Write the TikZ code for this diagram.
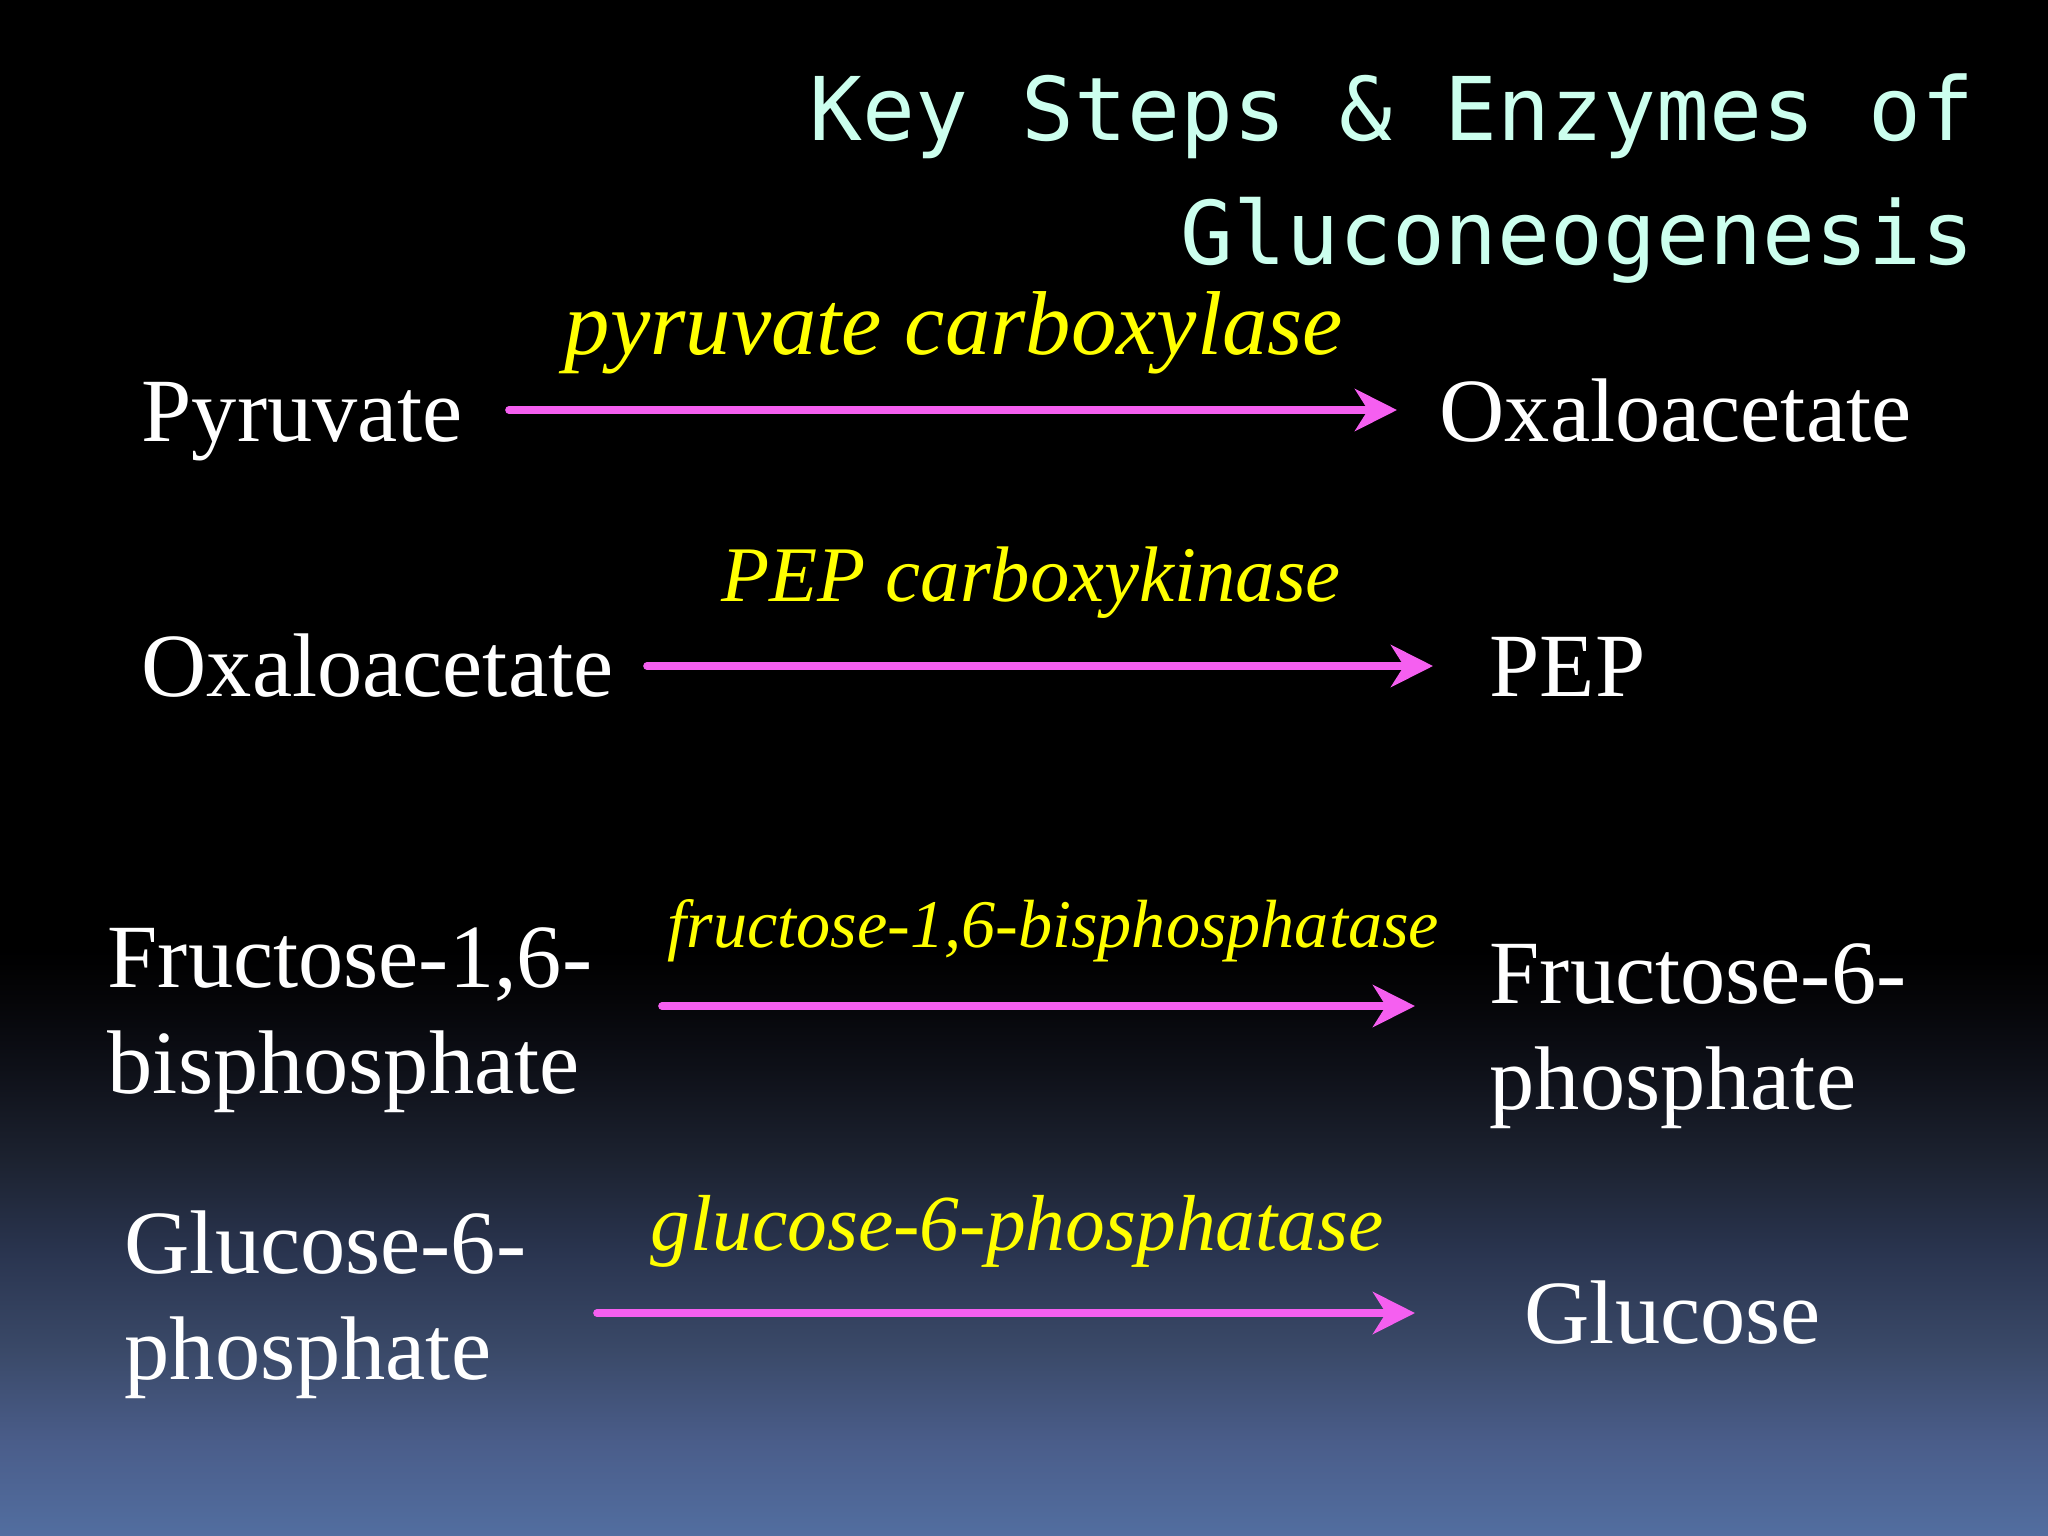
\documentclass[tikz,border=0pt]{standalone}
\usepackage{fontspec}
\setmainfont{Liberation Serif}
\newfontfamily\titlefont{DejaVu Sans Mono}
\usetikzlibrary{arrows.meta}
\definecolor{titlecyan}{RGB}{204,255,238}
\definecolor{enzyellow}{RGB}{255,255,0}
\definecolor{rxnpink}{RGB}{245,95,240}
\definecolor{bgA}{RGB}{82,110,160}
\definecolor{bgB}{RGB}{74,93,138}
\definecolor{bgC}{RGB}{58,73,104}
\definecolor{bgD}{RGB}{42,53,80}
\definecolor{bgE}{RGB}{28,34,48}
\definecolor{bgF}{RGB}{14,16,24}
\definecolor{bgG}{RGB}{5,5,8}
\pgfdeclareverticalshading{slidebg}{100bp}{color(0bp)=(bgA); color(25bp)=(bgA); color(28.06bp)=(bgB); color(31.05bp)=(bgC); color(34.15bp)=(bgD); color(37.24bp)=(bgE); color(40.23bp)=(bgF); color(42.45bp)=(bgG); color(44.1bp)=(black); color(100bp)=(black)}
\tikzset{
  compound/.style={inner sep=0pt, text=white, anchor=base west,
    font=\fontsize{25.7}{30.4}\selectfont},
  enzyme/.style={inner sep=0pt, text=enzyellow, anchor=base west},
  rxn/.style={draw=rxnpink, line width=0.077cm, line cap=round,
    -{Stealth[length=0.42cm,width=0.42cm,inset=0.13cm]}},
  titletext/.style={inner sep=0pt, text=titlecyan, anchor=base east,
    font=\titlefont\fontsize{25}{35.5}\selectfont}
}
\begin{document}
\begin{tikzpicture}[x=0.01cm,y=-0.01cm]
\useasboundingbox (0,0) rectangle (2048,1536);
\fill[shading=slidebg] (0,0) rectangle (2048,1536);

% title
\node[titletext] (title) at (1975,140)
  {\begin{tabular}[t]{@{}r@{}}Key Steps \& Enzymes of\\Gluconeogenesis\end{tabular}};

% compounds
\node[compound] (pyr)   at (141,441)  {Pyruvate};
\node[compound] (oaa1)  at (1439,441) {Oxaloacetate};
\node[compound] (oaa2)  at (141,696)  {Oxaloacetate};
\node[compound] (pep)   at (1489,696) {PEP};
\node[compound] (f16bp) at (107,987)
  {\begin{tabular}[t]{@{}l@{}}Fructose-1,6-\\bisphosphate\end{tabular}};
\node[compound] (f6p)   at (1489,1003)
  {\begin{tabular}[t]{@{}l@{}}Fructose-6-\\phosphate\end{tabular}};
\node[compound] (g6p)   at (124,1273)
  {\begin{tabular}[t]{@{}l@{}}Glucose-6-\\phosphate\end{tabular}};
\node[compound] (glc)   at (1524,1343) {Glucose};

% enzymes
\node[enzyme, font=\fontsize{25.8}{30}\selectfont\itshape] (e1) at (564,354) {pyruvate carboxylase};
\node[enzyme, font=\fontsize{22.4}{27}\selectfont\itshape] (e2) at (721,601) {PEP carboxykinase};
\node[enzyme, font=\fontsize{19.4}{23}\selectfont\itshape] (e3) at (667,947) {fructose-1,6-bisphosphatase};
\node[enzyme, font=\fontsize{22.6}{27}\selectfont\itshape] (e4) at (650,1250) {glucose-6-phosphatase};

% reaction arrows
\coordinate (r1s) at (509,410);  \coordinate (r1e) at (1397,410);
\coordinate (r2s) at (647,666);  \coordinate (r2e) at (1433,666);
\coordinate (r3s) at (662,1006); \coordinate (r3e) at (1415,1006);
\coordinate (r4s) at (597,1313); \coordinate (r4e) at (1415,1313);
\draw[rxn] (r1s) -- (r1e);
\draw[rxn] (r2s) -- (r2e);
\draw[rxn] (r3s) -- (r3e);
\draw[rxn] (r4s) -- (r4e);
\end{tikzpicture}
\end{document}
